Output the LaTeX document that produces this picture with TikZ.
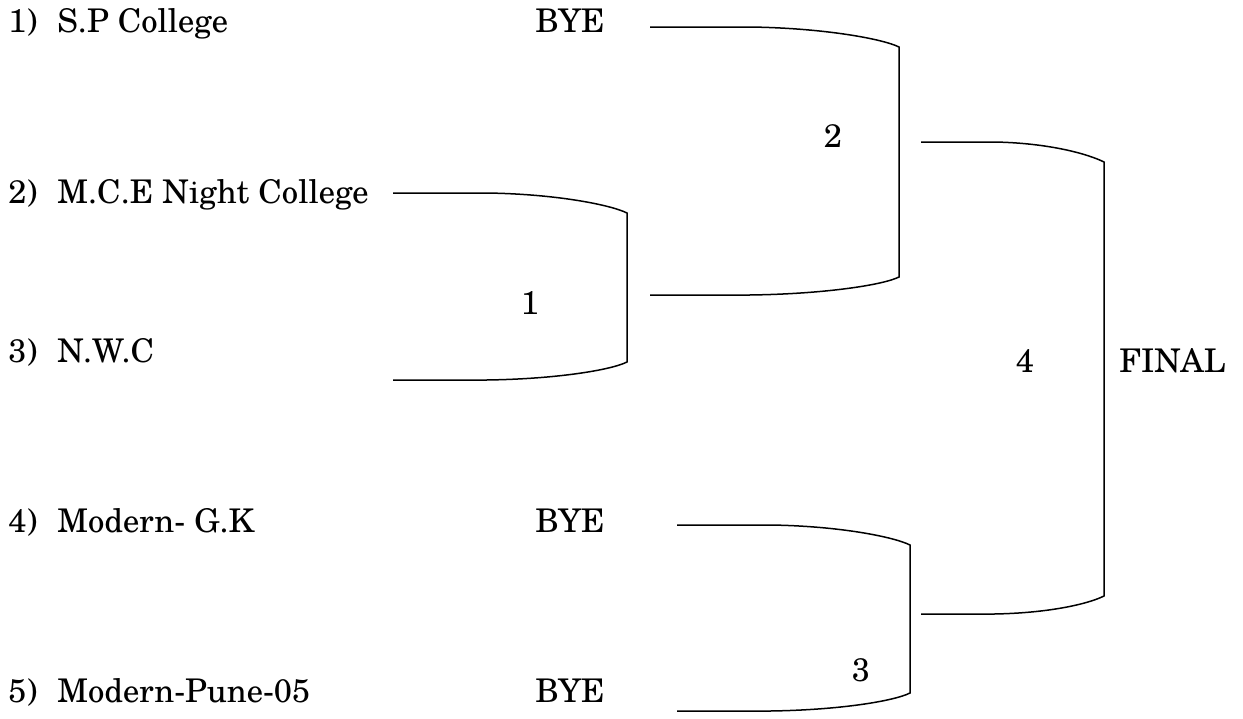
\documentclass[tikz,border=0pt]{standalone}
\usepackage{fontspec}
\setmainfont{texgyreschola-regular.otf}
\usetikzlibrary{positioning}

\tikzstyle{team}=[anchor=base west, inner sep=0pt, font=\fontsize{16.3}{20}\selectfont]
\tikzstyle{round}=[anchor=center, inner sep=0pt, font=\fontsize{16.3}{20}\selectfont]
\tikzstyle{tieline}=[draw=black, line width=0.75pt, line join=miter]

% one tie: name, left x, top y, right x, bottom y
\newcommand{\tie}[5]{%
	\coordinate (#1t) at (#2,#3);
	\coordinate (#1b) at (#2,#5);
	\pgfmathsetmacro\xa{#2+0.4*(#4-#2)}
	\pgfmathsetmacro\xc{#4-0.3*(#4-#2)}
	\draw[tieline] (#1t) -- (\xa,#3) .. controls (\xc,#3+1) and (#4-16,#3+12) .. (#4,#3+20)
		-- (#4,#5-18) .. controls (#4-16,#5-10) and (\xc,#5-1) .. (\xa,#5) -- (#1b);}

\begin{document}
\begin{tikzpicture}[x=0.5pt, y=-0.5pt]
			\useasboundingbox (0,0) rectangle (1243,718);
			%The teams
			\foreach \pos/\name/\txt in {{(8,32)/n1/1)},	{(8,203)/n2/2)},	{(8,362)/n3/3)},
									{(8,532)/n4/4)},	{(8,702)/n5/5)}}
			\node[team] (\name) at \pos {\txt};
			\foreach \pos/\name/\txt in {{(57,32)/t1/S.P College},	{(57,203)/t2/M.C.E Night College},
									{(57,362)/t3/N.W.C},	{(57,532)/t4/Modern- G.K},
									{(57,702)/t5/Modern-Pune-05}}
			\node[team] (\name) at \pos {\txt};
			%The byes
			\foreach \pos/\name in {{(535,32)/bye1},	{(535,532)/bye4},	{(535,702)/bye5}}
			\node[team] (\name) at \pos {BYE};
			%The ties
			\tie{m1}{393}{193}{627}{380}
			\tie{m2}{650}{27}{899}{295}
			\tie{m3}{677}{525}{910}{711}
			\tie{m4}{921}{142}{1104}{614}
			%Match numbers
			\foreach \pos/\name/\txt in {{(530,303)/r1/1},	{(833,136)/r2/2},
									{(861,670)/r3/3},	{(1025,361)/r4/4}}
			\node[round] (\name) at \pos {\txt};
			\node[round, anchor=west] (final) at (1119,361) {FINAL};
\end{tikzpicture}
\end{document}
